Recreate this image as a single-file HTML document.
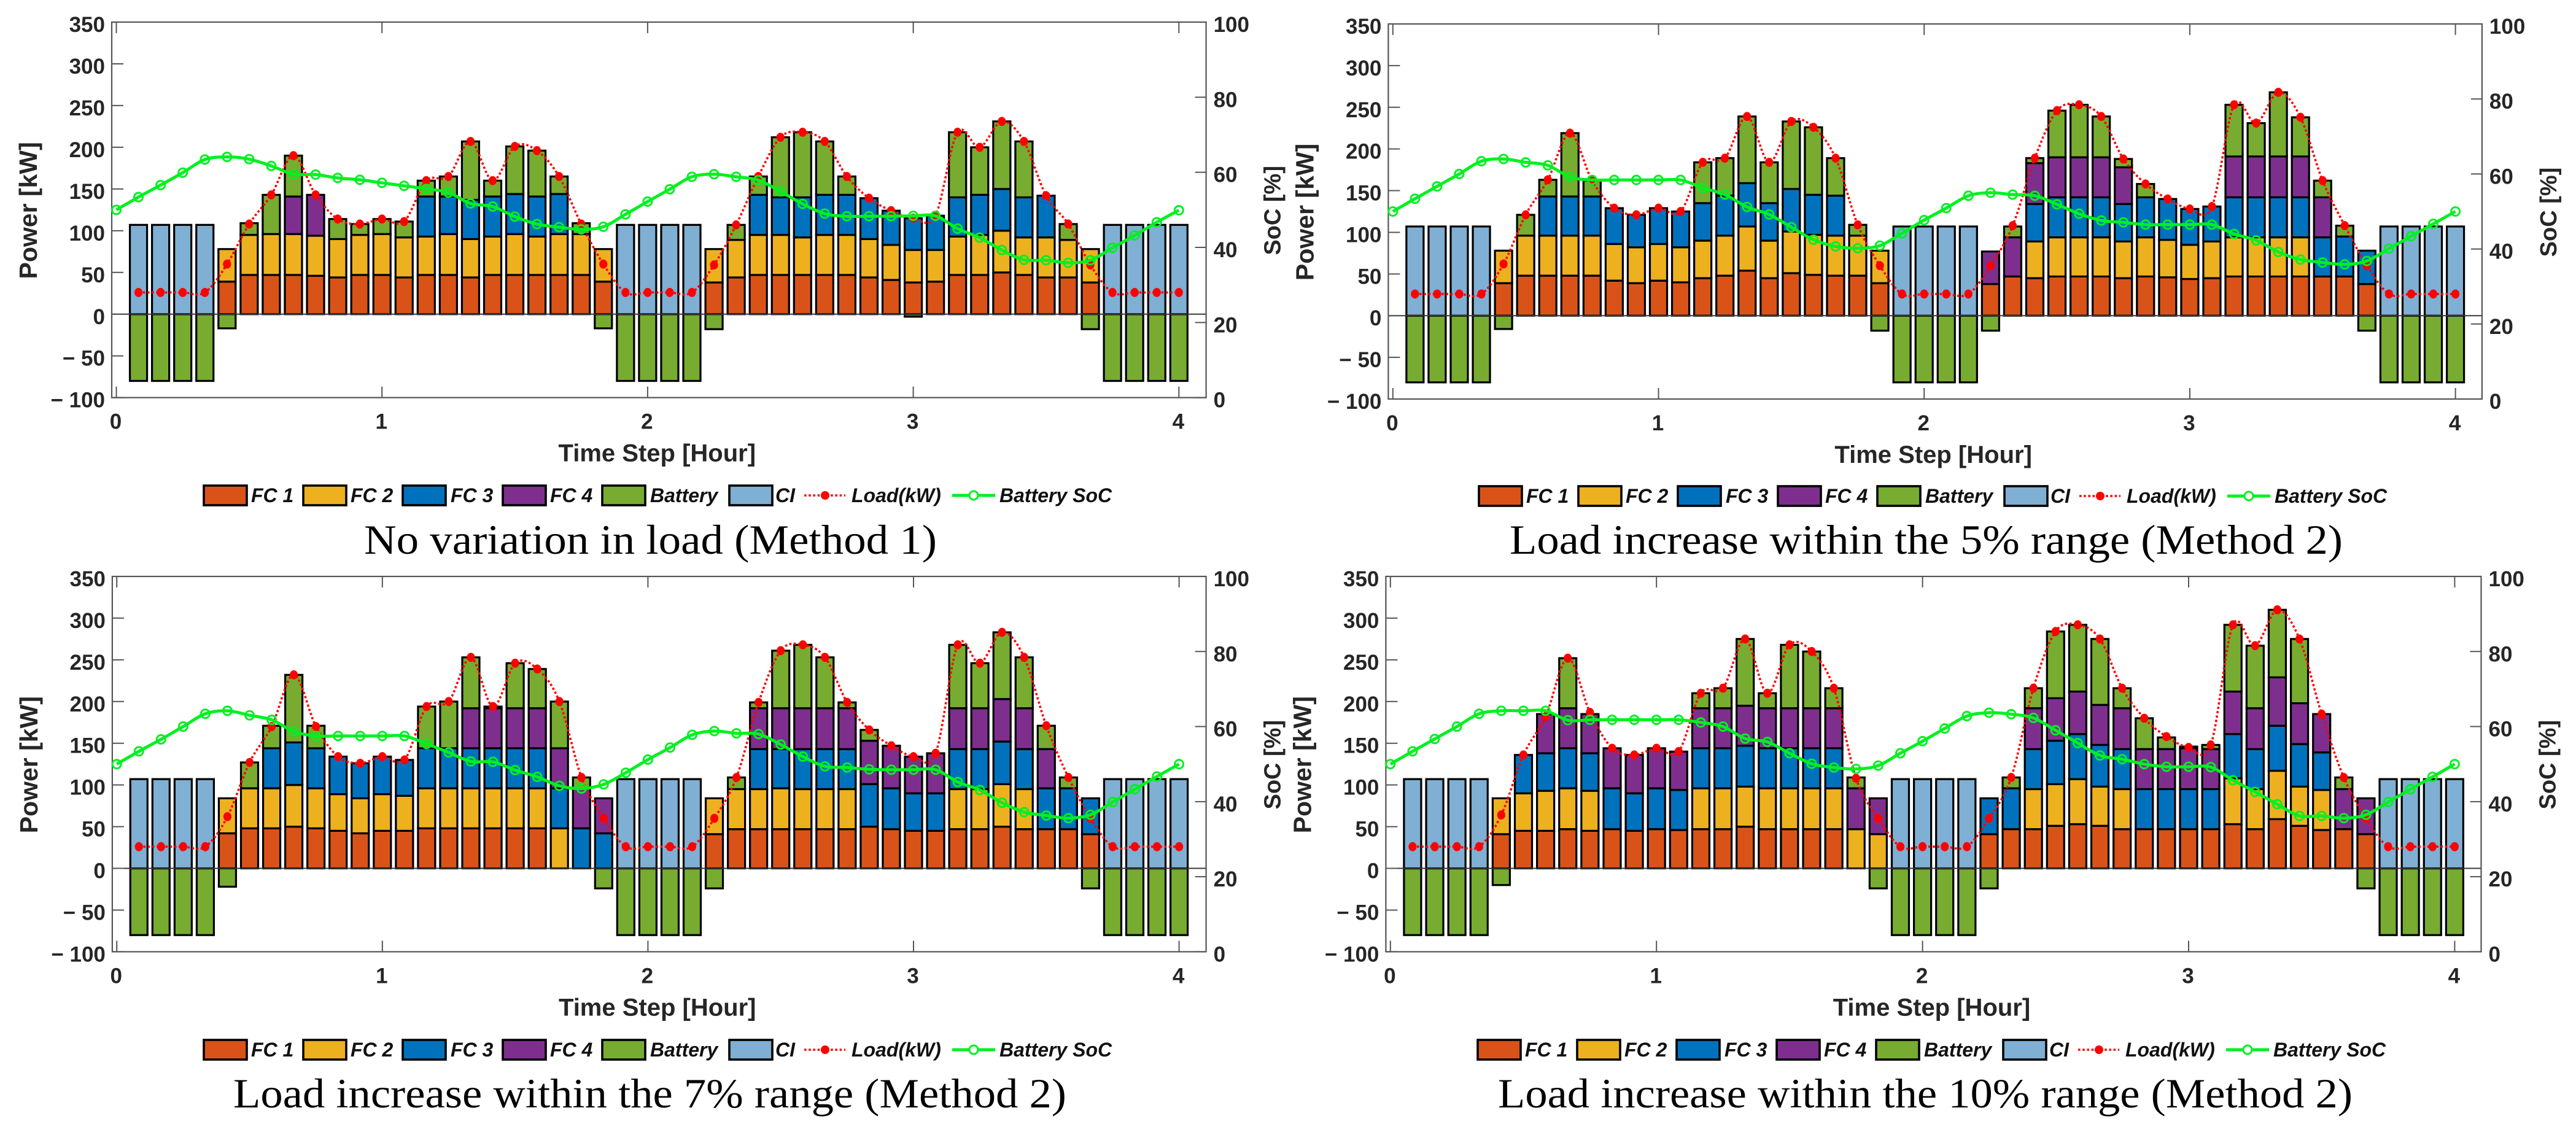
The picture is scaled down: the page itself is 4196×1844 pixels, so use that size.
<!DOCTYPE html>
<html lang="en">
<head>
<meta charset="utf-8">
<title>Power and battery SoC under load variation</title>
<style>
html,body{margin:0;padding:0;background:#fff;}
svg{display:block;}
</style>
</head>
<body>
<svg id="figure" xmlns="http://www.w3.org/2000/svg" width="4196" height="1844" viewBox="0 0 4196 1844"></svg>
<script>
const timeSteps = [0,1,2,3,4,5,6,7,8,9,10,11,12,13,14,15,16,17,18,19,20,21,22,23,24,25,26,27,28,29,30,31,32,33,34,35,36,37,38,39,40,41,42,43,44,45,46,47,48];
const powerTicks = [-100,-50,0,50,100,150,200,250,300,350];
const powerTickLabels = ['\u2212 100','\u2212 50','0','50','100','150','200','250','300','350'];
const socTicks = [0,20,40,60,80,100];
const socTickLabels = ['0','20','40','60','80','100'];
const hourTicks = [0,1,2,3,4];
const hourTickLabels = ['0','1','2','3','4'];
const seriesNames = ['FC 1','FC 2','FC 3','FC 4','Battery','CI'];
const seriesColors = ['#D95319','#EDB120','#0072BD','#7E2F8E','#77AC30','#7FAFD3'];
const ciValues = [107,107,107,107,0,0,0,0,0,0,0,0,0,0,0,0,0,0,0,0,0,0,107,107,107,107,0,0,0,0,0,0,0,0,0,0,0,0,0,0,0,0,0,0,107,107,107,107];

const p1Fc1 = [0,0,0,0,39,47,47,47,46,44,47,47,44,47,47,44,47,47,47,47,47,39,0,0,0,0,38,44,47,47,47,47,47,44,41,38,39,47,47,50,47,44,44,38,0,0,0,0];
const p1Fc2 = [0,0,0,0,39,48,49,49,48,46,48,49,48,46,49,46,46,49,46,49,49,39,0,0,0,0,40,45,48,48,45,48,48,46,42,39,38,46,48,50,45,48,45,40,0,0,0,0];
const p1Fc3 = [0,0,0,0,0,0,0,0,0,0,0,0,0,48,45,47,48,48,48,48,0,0,0,0,0,0,0,0,48,45,48,48,48,49,41,38,41,47,48,50,48,50,0,0,0,0,0,0];
const p1Fc4 = [0,0,0,0,0,0,0,45,49,0,0,0,0,0,0,0,0,0,0,0,0,0,0,0,0,0,0,0,0,0,0,0,0,0,0,0,0,0,0,0,0,0,0,0,0,0,0,0];
const p1Bat = [-80,-80,-80,-80,-17,14,47,49,0,24,13,18,19,19,24,70,19,57,55,21,13,-17,-80,-80,-80,-80,-18,18,22,72,78,64,22,0,0,-3,0,78,57,81,67,0,19,-18,-80,-80,-80,-80];
const p1Load = [26,26,26,26,60,108,143,190,143,114,108,114,111,160,165,207,160,201,196,165,108,60,26,26,26,26,59,107,165,212,218,207,165,139,124,115,118,218,200,231,207,142,108,59,26,26,26,26];
const p1Soc = [50,53.4,56.6,59.9,63.4,64.1,63.5,61.7,59.5,59.4,58.5,58,57.2,56.4,55.6,54.6,51.7,50.9,48.2,46.2,45.4,44.8,45.5,48.8,52.2,55.5,58.8,59.5,58.8,57.9,54.9,51.6,49,48.3,48.3,48.3,48.4,48.4,45,42.6,39.3,36.7,36.6,35.9,36.6,39.9,43.2,46.7,49.9];

const p2Fc1 = [0,0,0,0,39,48,48,48,48,42,39,42,40,45,48,54,45,51,49,48,48,39,0,0,0,0,38,47,45,47,47,47,45,47,46,44,45,47,47,47,47,47,47,38,0,0,0,0];
const p2Fc2 = [0,0,0,0,39,48,48,48,48,44,43,44,42,45,48,53,45,50,48,48,48,39,0,0,0,0,0,0,44,47,47,47,44,47,45,41,44,47,47,47,47,0,0,0,0,0,0,0];
const p2Fc3 = [0,0,0,0,0,0,47,47,47,43,39,43,43,45,48,52,45,51,48,48,0,0,0,0,0,0,0,0,45,48,48,48,45,48,49,43,42,48,48,48,48,47,48,40,0,0,0,0];
const p2Fc4 = [0,0,0,0,0,0,0,0,0,0,0,0,0,0,0,0,0,0,0,0,0,0,0,0,0,0,39,47,49,48,48,48,44,0,0,0,0,49,49,49,49,48,0,0,0,0,0,0];
const p2Bat = [-80,-80,-80,-80,-16,25,20,76,19,0,0,0,0,49,45,80,49,81,81,45,13,-18,-80,-80,-80,-80,-18,13,6,56,63,49,10,16,0,0,0,62,40,77,47,20,13,-18,-80,-80,-80,-80];
const p2Load = [26,26,26,26,62,121,163,219,162,129,121,129,125,184,189,239,184,233,226,189,109,60,26,26,26,26,60,108,189,246,253,239,188,158,140,128,131,253,231,268,238,162,108,60,26,26,26,26];
const p2Soc = [50,53.4,56.7,60,63.4,64,63.1,62.3,59.2,58.4,58.4,58.4,58.4,58.4,56.3,54.5,51.2,49.2,45.8,42.5,40.7,40.2,40.9,44.2,47.7,50.9,54.2,55,54.5,54.2,51.9,49.4,47.6,47.1,46.5,46.5,46.5,46.5,44,42.3,39.2,37.2,36.4,35.9,36.8,40.1,43.4,46.7,50];

const p3Fc1 = [0,0,0,0,42,48,48,50,48,45,42,45,45,48,48,48,48,48,48,0,0,0,0,0,0,0,41,47,47,47,47,47,47,50,47,45,45,47,47,50,47,47,47,41,0,0,0,0];
const p3Fc2 = [0,0,0,0,42,48,48,50,48,44,42,44,42,48,48,48,48,48,48,48,0,0,0,0,0,0,43,48,48,49,48,48,48,0,0,0,0,48,48,51,48,0,0,0,0,0,0,0];
const p3Fc3 = [0,0,0,0,0,0,48,51,48,45,42,45,43,48,48,48,48,48,48,48,48,42,0,0,0,0,0,0,48,47,48,48,48,51,49,45,45,48,48,51,48,49,49,43,0,0,0,0];
const p3Fc4 = [0,0,0,0,0,0,0,0,0,0,0,0,0,0,0,48,48,48,48,48,48,42,0,0,0,0,0,0,49,49,49,49,49,52,51,44,48,49,49,51,49,47,0,0,0,0,0,0];
const p3Bat = [-80,-80,-80,-80,-22,31,27,81,27,0,0,0,0,50,56,61,2,54,47,56,13,-24,-80,-80,-80,-80,-24,14,7,69,76,61,7,13,0,0,0,76,54,80,61,28,13,-24,-80,-80,-80,-80];
const p3Load = [26,26,26,26,62,127,170,232,170,134,126,134,130,194,200,253,194,246,239,200,109,60,26,26,26,26,60,109,199,261,268,253,199,166,147,134,138,268,246,283,253,171,109,60,26,26,26,26];
const p3Soc = [50,53.4,56.6,60,63.4,64.2,63,61.8,58.7,57.5,57.5,57.5,57.5,57.5,55.4,53.1,50.7,50.6,48.4,46.6,44.2,43.5,44.6,47.7,51.2,54.4,57.8,58.8,58.2,58,55.2,52,49.4,49.1,48.6,48.5,48.5,48.5,45.2,43.1,39.7,37.2,36.3,35.6,36.5,39.9,43.3,46.7,50];

const p4Fc1 = [0,0,0,0,41,45,45,47,45,47,45,47,46,47,47,50,47,47,47,47,0,0,0,0,0,0,41,47,47,51,53,51,47,47,47,47,47,53,47,59,51,46,47,41,0,0,0,0];
const p4Fc2 = [0,0,0,0,43,45,48,49,48,0,0,0,0,49,49,48,49,49,49,49,47,41,0,0,0,0,0,0,48,50,54,47,48,0,0,0,0,55,48,58,47,48,0,0,0,0,0,0];
const p4Fc3 = [0,0,0,0,0,46,45,48,45,49,45,49,48,48,48,49,48,48,48,48,0,0,0,0,0,0,43,49,48,52,54,50,48,48,48,48,48,53,48,54,51,45,0,0,0,0,0,0];
const p4Fc4 = [0,0,0,0,0,0,47,48,47,48,46,48,46,48,48,48,48,48,48,48,49,43,0,0,0,0,0,0,49,51,51,48,49,48,48,49,48,51,49,58,49,46,48,43,0,0,0,0];
const p4Bat = [-80,-80,-80,-80,-20,0,0,60,0,0,0,0,0,18,24,80,18,76,68,24,13,-24,-80,-80,-80,-80,-24,13,24,80,80,79,24,37,14,2,5,80,75,81,77,0,14,-24,-80,-80,-80,-80];
const p4Load = [26,26,26,26,64,136,182,252,187,144,136,144,140,210,216,275,210,268,260,216,108,60,26,26,26,26,60,109,216,284,292,275,216,180,158,145,148,292,267,310,275,185,109,60,26,26,26,26];
const p4Soc = [50,53.4,56.7,60,63.4,64.2,64.2,64.2,61.7,61.8,61.8,61.8,61.8,61.8,61.1,60,56.8,55.9,52.9,50.1,49.1,48.7,49.6,52.9,56.1,59.5,62.8,63.7,63.3,62.3,59,55.6,52.3,51.3,50,49.3,49.3,49.2,45.7,42.6,39.3,36.2,36.2,35.6,36.5,39.9,43.3,46.6,50];

const captions = ['No variation in load (Method 1)','Load increase within the 5% range (Method 2)','Load increase within the 7% range (Method 2)','Load increase within the 10% range (Method 2)'];

const panels = [
  {id:'p1',left:182,right:1964.6,top:36,bottom:647.7,x0:189.5,hw:432.7,lx:0,ly:0,capX:593,capW:933,capY:902,series:[p1Fc1,p1Fc2,p1Fc3,p1Fc4,p1Bat,ciValues],load:p1Load,soc:p1Soc,caption:captions[0]},
  {id:'p2',left:2261.4,right:4042.9,top:39,bottom:650,x0:2268.8,hw:432.7,lx:2077,ly:1,capX:2459,capW:1357,capY:902,series:[p2Fc1,p2Fc2,p2Fc3,p2Fc4,p2Bat,ciValues],load:p2Load,soc:p2Soc,caption:captions[1]},
  {id:'p3',left:182.9,right:1964.6,top:939,bottom:1550.4,x0:190.2,hw:432.6,lx:0,ly:903,capX:380,capW:1357,capY:1804,series:[p3Fc1,p3Fc2,p3Fc3,p3Fc4,p3Bat,ciValues],load:p3Load,soc:p3Soc,caption:captions[2]},
  {id:'p4',left:2257.4,right:4041.5,top:939,bottom:1550.4,x0:2264.8,hw:433.4,lx:2075,ly:903,capX:2440,capW:1392,capY:1804,series:[p4Fc1,p4Fc2,p4Fc3,p4Fc4,p4Bat,ciValues],load:p4Load,soc:p4Soc,caption:captions[3]}
];

const NS = 'http://www.w3.org/2000/svg';
const FONT = '"Liberation Sans", Arial, sans-serif';
const figure = document.getElementById('figure');

function svgEl(tag, attrs, parent){
  const el = document.createElementNS(NS, tag);
  for (const key in attrs) el.setAttribute(key, attrs[key]);
  parent.appendChild(el);
  return el;
}
function smoothPath(pts){
  let d = 'M' + pts[0][0].toFixed(2) + ' ' + pts[0][1].toFixed(2);
  for (let i = 0; i < pts.length - 1; i++){
    const a = pts[Math.max(i-1,0)], b = pts[i], c = pts[i+1], e = pts[Math.min(i+2,pts.length-1)];
    const c1x = b[0] + (c[0]-a[0])/6, c1y = b[1] + (c[1]-a[1])/6;
    const c2x = c[0] - (e[0]-b[0])/6, c2y = c[1] - (e[1]-b[1])/6;
    d += 'C' + c1x.toFixed(2) + ' ' + c1y.toFixed(2) + ' ' + c2x.toFixed(2) + ' ' + c2y.toFixed(2) + ' ' + c[0].toFixed(2) + ' ' + c[1].toFixed(2);
  }
  return d;
}

panels.forEach(function(p){
  const xOf = function(step){ return p.x0 + step/12*p.hw; };
  const yPower = function(v){ return p.bottom - (v+100)/450*(p.bottom-p.top); };
  const ySoc = function(v){ return p.bottom - v/100*(p.bottom-p.top); };
  const g = svgEl('g', {}, figure);
  
  

  // stacked bars
  const barWidth = 28;
  for (let i = 0; i < 48; i++){
    const step = timeSteps[i+1];
    let pos = 0, neg = 0;
    p.series.forEach(function(values, s){
      const v = values[i];
      if (v === 0) return;
      let y0, y1;
      if (v > 0){ y0 = pos; y1 = pos + v; pos = y1; }
      else { y0 = neg; y1 = neg + v; neg = y1; }
      const top = Math.min(yPower(y0), yPower(y1));
      const h = Math.abs(yPower(y0) - yPower(y1));
      const r = svgEl('rect', {x:xOf(step)-barWidth/2, y:top, width:barWidth, height:h, fill:seriesColors[s], stroke:'#000', 'stroke-width':3.2}, g);
      
      
    });
  }

  // zero line
  const zero = svgEl('line', {x1:p.left, x2:p.right, y1:yPower(0), y2:yPower(0), stroke:'#3a3a3a', 'stroke-width':2}, g);
  
  

  // axes box
  const box = svgEl('rect', {x:p.left, y:p.top, width:p.right-p.left, height:p.bottom-p.top, fill:'none', stroke:'#555', 'stroke-width':2.2}, g);
  
  

  // power ticks
  powerTicks.forEach(function(v, i){
    const y = yPower(v);
    const t = svgEl('line', {x1:p.left, x2:p.left+19, y1:y, y2:y, stroke:'#555', 'stroke-width':2}, g);
    
    
    const l = svgEl('text', {x:p.left-11, y:y+16, 'text-anchor':'end', 'font-family':FONT, 'font-weight':'700', 'font-size':35, fill:'#262626'}, g);
    l.textContent = powerTickLabels[i];
    
    
  });
  // soc ticks
  socTicks.forEach(function(v, i){
    const y = ySoc(v);
    const t = svgEl('line', {x1:p.right-18, x2:p.right, y1:y, y2:y, stroke:'#555', 'stroke-width':2}, g);
    
    
    const l = svgEl('text', {x:p.right+12, y:y+16, 'font-family':FONT, 'font-weight':'700', 'font-size':35, fill:'#262626'}, g);
    l.textContent = socTickLabels[i];
    
    
  });
  // hour ticks
  hourTicks.forEach(function(v, i){
    const x = p.x0 + v*p.hw;
    const t1 = svgEl('line', {x1:x, x2:x, y1:p.bottom-18, y2:p.bottom, stroke:'#555', 'stroke-width':2}, g);
    
    
    const t2 = svgEl('line', {x1:x, x2:x, y1:p.top, y2:p.top+18, stroke:'#555', 'stroke-width':2}, g);
    
    
    const l = svgEl('text', {x:x-1, y:p.bottom+51, 'text-anchor':'middle', 'font-family':FONT, 'font-weight':'700', 'font-size':35, fill:'#262626'}, g);
    l.textContent = hourTickLabels[i];
    
    
  });

  // load series
  const loadPts = p.load.map(function(v, i){ return [xOf(timeSteps[i+1]), yPower(v)]; });
  const loadLine = svgEl('path', {d:smoothPath(loadPts), fill:'none', stroke:'#FF0000', 'stroke-width':3.6, 'stroke-dasharray':'3.6 3.6'}, g);
  
  
  loadPts.forEach(function(pt){
    const c = svgEl('ellipse', {cx:pt[0], cy:pt[1], rx:6.6, ry:7.4, fill:'#FF0000'}, g);
    
    
  });

  // soc series
  const socPts = p.soc.map(function(v, i){ return [xOf(timeSteps[i]), ySoc(v)]; });
  const socLine = svgEl('path', {d:smoothPath(socPts), fill:'none', stroke:'#00F020', 'stroke-width':5, 'stroke-linejoin':'round'}, g);
  
  
  socPts.forEach(function(pt){
    const c = svgEl('circle', {cx:pt[0], cy:pt[1], r:7, fill:'none', stroke:'#00F020', 'stroke-width':3}, g);
    
    
  });

  // axis titles
  const midY = (p.top + p.bottom)/2 + 1;
  const yTitle = svgEl('text', {transform:'translate(' + (p.left-122) + ' ' + (midY) + ') rotate(-90)', 'text-anchor':'middle', 'font-family':FONT, 'font-weight':'700', 'font-size':41, fill:'#262626'}, g);
  yTitle.textContent = 'Power [kW]';
  
  
  const y2Title = svgEl('text', {transform:'translate(' + (p.right+121) + ' ' + (midY) + ') rotate(-90)', 'text-anchor':'middle', 'font-family':FONT, 'font-weight':'700', 'font-size':38, fill:'#262626'}, g);
  y2Title.textContent = 'SoC [%]';
  
  
  const xTitle = svgEl('text', {x:(p.left+p.right)/2-3, y:p.bottom+104, 'text-anchor':'middle', 'font-family':FONT, 'font-weight':'700', 'font-size':40, fill:'#262626'}, g);
  xTitle.textContent = 'Time Step [Hour]';
  
  

  // legend
  const legend = svgEl('g', {transform:'translate(' + p.lx + ' ' + p.ly + ')'}, g);
  
  
  const swatchX = [332, 494, 656, 819, 981, 1188];
  const textX = [409, 571, 734, 896, 1059, 1263];
  seriesNames.forEach(function(name, s){
    const sw = svgEl('rect', {x:swatchX[s], y:791, width:70, height:32, fill:seriesColors[s], stroke:'#000', 'stroke-width':3.6}, legend);
    
    
    const tx = svgEl('text', {x:textX[s], y:818, 'font-family':FONT, 'font-weight':'700', 'font-style':'italic', 'font-size':32, fill:'#111'}, legend);
    tx.textContent = name;
    
    
  });
  const legLoad = svgEl('line', {x1:1310, x2:1377, y1:807, y2:807, stroke:'#FF0000', 'stroke-width':3.6, 'stroke-dasharray':'3.6 3.6'}, legend);
  
  
  const legLoadDot = svgEl('circle', {cx:1344, cy:807, r:7, fill:'#FF0000'}, legend);
  
  
  const legLoadText = svgEl('text', {x:1387, y:818, 'font-family':FONT, 'font-weight':'700', 'font-style':'italic', 'font-size':32, fill:'#111'}, legend);
  legLoadText.textContent = 'Load(kW)';
  
  
  const legSoc = svgEl('line', {x1:1551, x2:1621, y1:807, y2:807, stroke:'#00F020', 'stroke-width':5}, legend);
  
  
  const legSocDot = svgEl('circle', {cx:1586, cy:807, r:7, fill:'#fff', stroke:'#00F020', 'stroke-width':3}, legend);
  
  
  const legSocText = svgEl('text', {x:1628, y:818, 'font-family':FONT, 'font-weight':'700', 'font-style':'italic', 'font-size':32, fill:'#111'}, legend);
  legSocText.textContent = 'Battery SoC';
  
  

  // caption
  const cap = svgEl('text', {x:p.capX, y:p.capY, textLength:p.capW, lengthAdjust:'spacingAndGlyphs', 'font-family':'"Liberation Serif", "Times New Roman", serif', 'font-size':68, fill:'#000'}, g);
  cap.textContent = p.caption;
  
  
});
</script>
</body>
</html>
